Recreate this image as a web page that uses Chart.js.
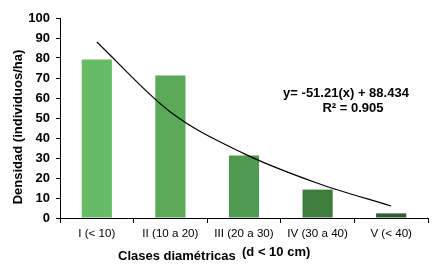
<!DOCTYPE html>
<html><head><meta charset="utf-8">
<script src="https://cdn.jsdelivr.net/npm/chart.js@4/dist/chart.umd.min.js"></script>
<style>html,body{margin:0;padding:0;background:#fff}#w{width:447px;height:268px}</style>
</head><body><div id="w"><canvas id="c"></canvas></div>
<script>
const categories = ['I (< 10)', 'II (10 a 20)', 'III (20 a 30)', 'IV (30 a 40)', 'V (< 40)'];
const densidad = [79.3, 71.2, 31.2, 14.2, 2.3];
const tendencia = [88.0, 53.0, 32.2, 17.4, 6.0];
const barColors = ['#66bb66', '#5aaa5a', '#4e9a4e', '#3f7d3f', '#2f5f2f'];
const yTicks = [0, 10, 20, 30, 40, 50, 60, 70, 80, 90, 100];
const FONT = '"Liberation Sans", Arial, sans-serif';

const textPlugin = {
  id: 'texts',
  afterDraw(chart) {
    const ctx = chart.ctx;
    ctx.save();
    ctx.fillStyle = '#000';
    ctx.textBaseline = 'middle';
    ctx.textAlign = 'center';
    ctx.font = 'bold 13px ' + FONT;
    ctx.fillText('y= -51.21(x) + 88.434', 346, 93);
    ctx.fillText('R² = 0.905', 353, 108);
    // x title
    ctx.textAlign = 'left';
    ctx.font = 'bold 13px ' + FONT;
    ctx.fillText('Clases diamétricas', 118, 256);
    ctx.fillText('(d < 10 cm)', 242, 252);
    // y title
    ctx.translate(18, 127);
    ctx.rotate(-Math.PI / 2);
    ctx.textAlign = 'center';
    ctx.font = 'bold 13px ' + FONT;
    ctx.fillText('Densidad (individuos/ha)', 0, 0);
    ctx.restore();
  }
};

new Chart(document.getElementById('c'), {
  type: 'bar',
  data: {
    labels: categories,
    datasets: [
      { type: 'line', data: tendencia, borderColor: '#000', borderWidth: 1.2, pointRadius: 0,
        fill: false, cubicInterpolationMode: 'monotone', order: 0 },
      { type: 'bar', data: densidad, backgroundColor: barColors, borderWidth: 0,
        barPercentage: 0.41, categoryPercentage: 1.0, order: 1 }
    ]
  },
  options: {
    responsive: true, maintainAspectRatio: false, animation: false,
    devicePixelRatio: 1,
    layout: { padding: { top: 18, right: 19, left: 0, bottom: 0 } },
    plugins: { legend: { display: false }, tooltip: { enabled: false } },
    scales: {
      x: {
        offset: true,
        grid: { display: true, drawOnChartArea: false, drawTicks: true, tickLength: 5, color: '#000', offset: true },
        border: { display: true, color: '#000', width: 1 },
        ticks: { color: '#000', font: { family: FONT, size: 11.6 }, padding: 4, maxRotation: 0, autoSkip: false },
        afterFit(s) { s.height = 50; }
      },
      y: {
        min: 0, max: 100,
        afterBuildTicks(s) { s.ticks = yTicks.map(v => ({ value: v })); },
        grid: { display: true, drawOnChartArea: false, drawTicks: true, tickLength: 4, color: '#000' },
        border: { display: true, color: '#000', width: 1 },
        ticks: { color: '#000', font: { family: FONT, size: 13, weight: 'bold' }, padding: 6 },
        afterFit(s) { s.width = 60; }
      }
    }
  },
  plugins: [textPlugin]
});
</script>
</body></html>
